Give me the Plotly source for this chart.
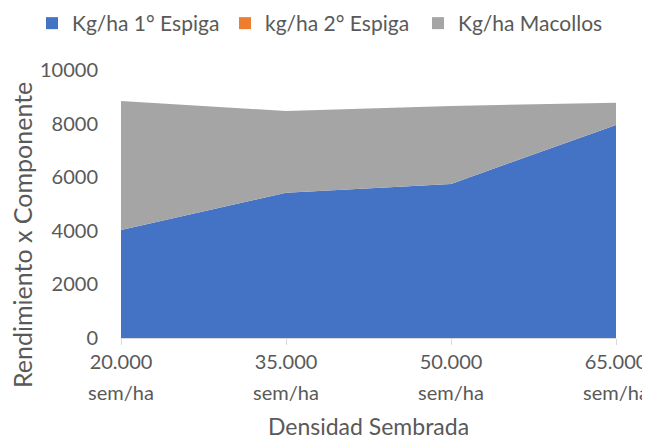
import plotly.graph_objects as go

categories = ["20.000", "35.000", "50.000", "65.000"]
unit_label = "sem/ha"
series_names = ["Kg/ha 1° Espiga", "kg/ha 2° Espiga", "Kg/ha Macollos"]
espiga1 = [4030, 5420, 5750, 7950]
espiga2 = [0, 0, 0, 0]
macollos = [4810, 3050, 2910, 830]
y_ticks = [0, 2000, 4000, 6000, 8000, 10000]
colors = ["#4472C4", "#ED7D31", "#A5A5A5"]

FONT = "Lato"
GREY_TXT = "#595959"
xs = list(range(len(categories)))

W, H = 642, 432
L, R, T, B = 113, 34, 62, 102
PW, PH = W - L - R, H - T - B

fig = go.Figure()
for name, vals, color in zip(series_names, [espiga1, espiga2, macollos], colors):
    fig.add_trace(go.Scatter(
        x=xs, y=vals, name=name, mode="lines", stackgroup="one", showlegend=False,
        line=dict(width=0, color=color), fillcolor=color, hoverinfo="x+y+name",
    ))
# legend entries with square swatches
for name, color in zip(series_names, colors):
    fig.add_trace(go.Scatter(
        x=[None], y=[None], name=name, mode="markers",
        marker=dict(symbol="square", size=12, color=color), hoverinfo="skip",
    ))

fig.update_layout(
    width=W, height=H,
    margin=dict(l=L, r=R, t=T, b=B, autoexpand=False),
    paper_bgcolor="white", plot_bgcolor="white",
    font=dict(family=FONT, size=20, color=GREY_TXT),
    showlegend=True,
    legend=dict(orientation="h", x=(24 - L) / PW, xanchor="left", y=1 + (T + 5) / PH, yanchor="top",
                traceorder="normal", font=dict(size=21, color=GREY_TXT),
                itemwidth=30, tracegroupgap=0, entrywidth=148, entrywidthmode="pixels"),
    xaxis=dict(
        range=[0, len(categories) - 1], tickvals=xs, ticktext=categories,
        showgrid=False, zeroline=False, showline=True, linecolor="#D9D9D9", linewidth=1,
        ticks="outside", ticklen=6, tickcolor="#D9D9D9", automargin=False,
        ticklabeloverflow="allow", tickfont=dict(size=20, color=GREY_TXT),
    ),
    xaxis2=dict(
        overlaying="x", side="bottom", anchor="y", automargin=False,
        range=[0, len(categories) - 1], tickvals=xs, ticktext=[unit_label] * len(categories),
        showgrid=False, zeroline=False, showline=False,
        ticks="outside", ticklen=37, tickcolor="rgba(0,0,0,0)",
        ticklabeloverflow="allow", tickfont=dict(size=20, color=GREY_TXT),
        title=dict(text="Densidad Sembrada", font=dict(size=23, color=GREY_TXT), standoff=20),
    ),
    yaxis=dict(
        range=[0, 10000], tickvals=y_ticks, ticktext=[str(v) for v in y_ticks],
        showgrid=True, gridcolor="#D9D9D9", automargin=False,
        zeroline=False, showline=False, ticks="outside", ticklen=18,
        tickcolor="rgba(0,0,0,0)", tickfont=dict(size=20, color=GREY_TXT),
    ),
    annotations=[dict(
        text="Rendimiento x Componente", xref="paper", yref="paper",
        x=(14 - L) / PW, xanchor="center", y=(H - B - 227) / PH,
        yanchor="middle", textangle=-90, showarrow=False, font=dict(size=25, color=GREY_TXT),
    )],
)
fig.add_trace(go.Scatter(x=[None], y=[None], xaxis="x2", showlegend=False, hoverinfo="skip"))
fig.write_html("out.html")
